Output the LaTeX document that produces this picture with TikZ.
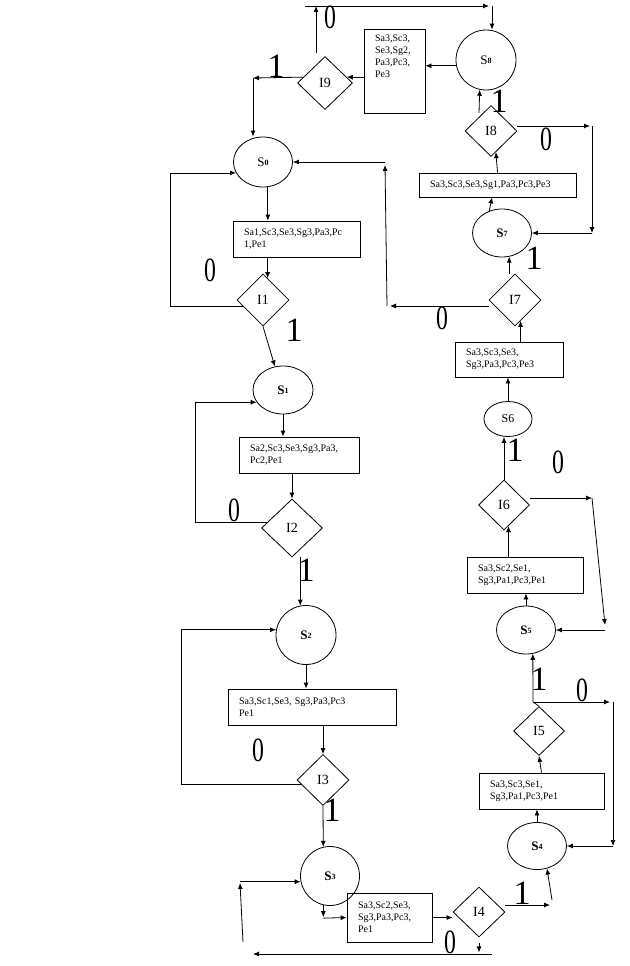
\documentclass[tikz,border=0pt]{standalone}
\usepackage{fontspec}
\setmainfont{Liberation Serif}
\usetikzlibrary{shapes.geometric, arrows.meta}
\newcommand{\stname}[2]{#1\raisebox{1pt}{\fontsize{8}{8}\selectfont\bfseries #2}}

\begin{document}
\begin{tikzpicture}[x=1pt, y=-1pt, line width=0.8pt]

\tikzstyle{state} = [ellipse, draw=black, inner sep=0pt, font=\fontsize{13}{13}\selectfont]
\tikzstyle{test} = [diamond, draw=black, inner sep=0pt, minimum width=52pt, minimum height=52pt, font=\fontsize{14}{14}\selectfont]
\tikzstyle{action} = [rectangle, draw=black, align=left, inner xsep=11pt, inner ysep=0pt, font=\fontsize{10}{12}\selectfont]
\tikzstyle{bit} = [inner sep=0pt, font=\fontsize{34}{34}\selectfont]
\tikzstyle{arrow} = [->, >={Latex[length=6pt,width=5pt]}]

\useasboundingbox (0,0) rectangle (629,966);

% states
\node (s0) [state, minimum width=59pt, minimum height=50pt] at (263,162) {\stname{S}{0}};
\node (s1) [state, minimum width=60pt, minimum height=48pt] at (283,390) {\stname{\textbf{S}}{1}};
\node (s2) [state, minimum width=60pt, minimum height=59pt] at (306,635) {\stname{\textbf{S}}{2}};
\node (s3) [state, minimum width=59pt, minimum height=59pt] at (330,876) {\stname{\textbf{S}}{3}};
\node (s4) [state, minimum width=59pt, minimum height=47pt] at (537,846) {\stname{\textbf{S}}{4}};
\node (s5) [state, minimum width=59pt, minimum height=48pt] at (526,630) {\stname{\textbf{S}}{5}};
\node (s6) [state, minimum width=48pt, minimum height=35pt, font=\fontsize{12}{12}\selectfont] at (508,419) {S6};
\node (s7) [state, minimum width=59pt, minimum height=48pt] at (502,233) {\stname{\textbf{S}}{7}};
\node (s8) [state, minimum width=60pt, minimum height=60pt] at (486,60) {\stname{S}{8}};

% tests
\node (i1) [test] at (263,300) {I1};
\node (i2) [test, minimum width=61pt, minimum height=58pt] at (292,528) {I2};
\node (i3) [test, minimum height=51pt] at (323,780) {I3};
\node (i4) [test, minimum height=50pt] at (479,912) {I4};
\node (i5) [test, minimum width=51pt, minimum height=49pt] at (539,731) {I5};
\node (i6) [test, minimum width=51pt, minimum height=50pt] at (504,505) {I6};
\node (i7) [test] at (515,300) {I7};
\node (i8) [test, minimum height=51pt] at (491,131) {I8};
\node (i9) [test, minimum width=55pt, minimum height=53pt] at (325,83) {I9};

% actions
\node (b0) [action, text width=105pt, minimum height=36pt] at (296.5,239) {Sa1,Sc3,Se3,Sg3,Pa3,Pc\\1,Pe1};
\node (b1) [action, text width=98pt, minimum height=36pt] at (299,455) {Sa2,Sc3,Se3,Sg3,Pa3,\\Pc2,Pe1};
\node (b2) [action, text width=146pt, minimum height=36pt] at (312,707) {Sa3,Sc1,Se3, Sg3,Pa3,Pc3\\Pe1};
\node (b3) [action, text width=63pt, minimum height=49pt] at (389.5,917.5) {Sa3,Sc2,Se3,\\Sg3,Pa3,Pc3,\\Pe1};
\node (b4) [action, text width=103pt, minimum height=36pt] at (541.5,791) {Sa3,Sc3,Se1,\\Sg3,Pa1,Pc3,Pe1};
\node (b5) [action, text width=94pt, minimum height=36pt] at (525,575) {Sa3,Sc2,Se1,\\Sg3,Pa1,Pc3,Pe1};
\node (b6) [action, text width=86pt, minimum height=35pt] at (509,359.5) {Sa3,Sc3,Se3,\\Sg3,Pa3,Pc3,Pe3};
\node (b7) [action, text width=135pt, minimum height=24pt] at (497.5,185) {Sa3,Sc3,Se3,Sg1,Pa3,Pc3,Pe3};
\node (b8) [action, text width=39pt, minimum height=84pt] at (394.5,71) {\parbox[c][72pt][t]{39pt}{Sa3,Sc3,\\Se3,Sg2,\\Pa3,Pc3,\\Pe3}};

% branch labels
\node (z9) [bit] at (330,17) {\scalebox{0.7}[1]{0}};
\node (z8) [bit] at (546,139) {\scalebox{0.7}[1]{0}};
\node (z1) [bit] at (210,270) {\scalebox{0.7}[1]{0}};
\node (z7) [bit] at (442,318) {\scalebox{0.7}[1]{0}};
\node (z6) [bit] at (558,462) {\scalebox{0.7}[1]{0}};
\node (z2) [bit] at (234,510) {\scalebox{0.7}[1]{0}};
\node (z5) [bit] at (582,690) {\scalebox{0.7}[1]{0}};
\node (z3) [bit] at (258,750) {\scalebox{0.7}[1]{0}};
\node (z4) [bit] at (450,942) {\scalebox{0.7}[1]{0}};
\node (o9) [bit] at (276,66) {1};
\node (o8) [bit] at (499,101) {1};
\node (o7) [bit] at (534,258) {1};
\node (o1) [bit] at (294,330) {1};
\node (o6) [bit] at (515,450) {1};
\node (o2) [bit] at (306,570) {1};
\node (o5) [bit] at (539,679) {1};
\node (o3) [bit] at (332,810) {1};
\node (o4) [bit] at (522,893) {1};

% corners
\coordinate (up9) at (316,53);
\coordinate (top9) at (316,6);
\coordinate (topl) at (305,6);
\coordinate (topr) at (489,6);
\coordinate (down8) at (492,6);
\coordinate (left9) at (253,78);
\coordinate (loop0) at (170,0);
\coordinate (loop1) at (195,0);
\coordinate (loop2) at (181,0);
\coordinate (botr) at (492,954);
\coordinate (botl) at (253,954);
\coordinate (upb) at (243,942);
\coordinate (upt) at (240,883);
\coordinate (r4) at (550,905);
\coordinate (r4b) at (552,900);
\coordinate (j5) at (533,702);
\coordinate (r5) at (610,702);
\coordinate (r5d) at (613,702);
\coordinate (r6) at (592,498);
\coordinate (r6d) at (605,625);
\coordinate (l7) at (390,306);
\coordinate (up7b) at (387,306);
\coordinate (up7t) at (385,165);
\coordinate (up8) at (479,113);
\coordinate (r8) at (590,126);
\coordinate (r8d) at (592,126);

% left column
\draw [arrow] (up9) -- (top9);
\draw [arrow] (topl) -- (topr);
\draw [arrow] (down8) -- (down8 |- s8.north);
\draw [arrow] (s8.191) -- (s8.191 -| b8.east);
\draw [arrow] (b8.west |- i9.15) -- (i9.15);
\draw [arrow] (i9.165) -- (left9);
\draw [arrow] (left9) -- (left9 |- s0.north);
\draw [arrow] (s0.-79) -- (s0.-79 |- b0.north);
\draw [arrow] (b0.south -| i1.78) -- (i1.78);
\draw [arrow] (i1.197) -- (i1.197 -| loop0) |- (s0.202);
\draw [arrow] (i1.south) -- (s1.109);
\draw [arrow] (s1.south) -- (s1.south |- b1.north);
\draw [arrow] (b1.south -| i2.north) -- (i2.north);
\draw [arrow] (i2.166) -- (i2.166 -| loop1) |- (s1.205);
\draw [arrow] (s2.101 |- i2.south) -- (s2.101);
\draw [arrow] (s2.south) -- (s2.south |- b2.north);
\draw [arrow] (b2.south -| i3.north) -- (i3.north);
\draw [arrow] (i3.192) -- (i3.192 -| loop2) |- (s2.170);
\draw [arrow] (i3.south) -- (s3.103);
\draw [arrow] (botr) -- (botl);
\draw [arrow] (upb) -- (upt);
\draw [arrow] (s3.191 -| upt) -- (s3.191);
\draw [arrow] (s3.-103) -- ([yshift=-12pt]s3.-103);
\draw [arrow] ([yshift=-13pt]s3.-103) -- (b3.west);
\draw [arrow] (b3.east) -- (b3.east -| i4.west);
\draw [arrow] ([yshift=-6pt]i4.south) -- ([yshift=-15pt]i4.south);

% right column
\draw [arrow] (i4.east |- r4) -- (r4);
\draw [arrow] (r4b) -- (s4.-66);
\draw [arrow] (s4.north) -- (s4.north |- b4.south);
\draw [arrow] (b4.north) -- (i5.south);
\draw (i5.north) -- (j5);
\draw [arrow] (j5) -- (s5.-74);
\draw [arrow] (j5) -- (r5);
\draw [arrow] (r5d) -- (r5d |- s4.east);
\draw [arrow] (s4.east -| r5d) -- (s4.east);
\draw [arrow] (s5.north) -- (s5.north |- b5.south);
\draw [arrow] (b5.north -| i6.-78) -- (i6.-78);
\draw [arrow] (i6.north) -- (i6.north |- s6.south);
\draw [arrow] (i6.east |- r6) -- (r6);
\draw [arrow] (r6) -- (r6d);
\draw [arrow] (s5.east -| r6d) -- (s5.east);
\draw [arrow] (s6.north) -- (s6.north |- b6.south);
\draw [arrow] (b6.north -| i7.-75) -- (i7.-75);
\draw [arrow] (i7.west |- l7) -- (l7);
\draw [arrow] (up7b) -- (up7t);
\draw [arrow] (s0.east -| up7t) -- (s0.east);
\draw [arrow] (i7.north -| s7.-73) -- (s7.-73);
\draw [arrow] (s7.120) -- ([xshift=-5.5pt]b7.south);
\draw [arrow] (b7.north) -- (i8.-77);
\draw [arrow] (up8) -- (s8.-102);
\draw [arrow] (i8.east |- r8) -- (r8);
\draw [arrow] (r8d) -- (r8d |- s7.east);
\draw [arrow] (s7.east -| r8d) -- (s7.east);
\end{tikzpicture}
\end{document}
